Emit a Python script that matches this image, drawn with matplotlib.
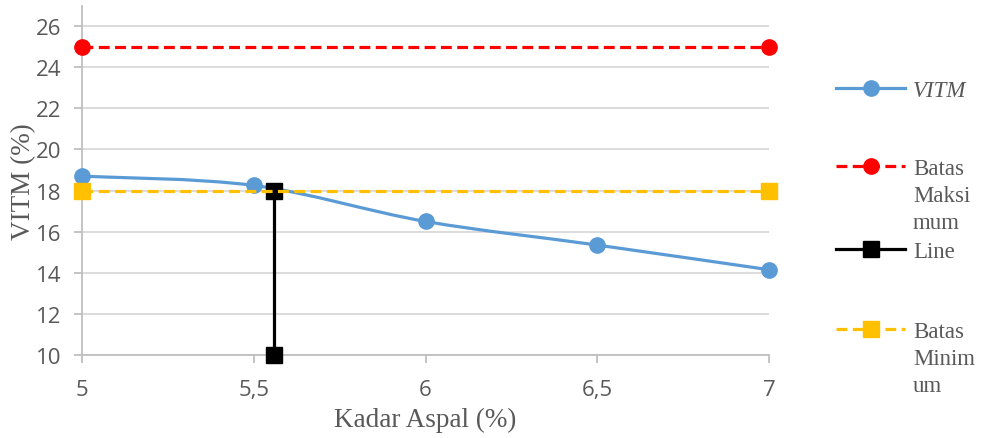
import matplotlib.pyplot as plt
import numpy as np
from matplotlib.path import Path
from matplotlib.patches import PathPatch
from matplotlib.lines import Line2D

# Data VITM terhadap kadar aspal
kadar_aspal = [5, 5.5, 6, 6.5, 7]
vitm = [18.7, 18.25, 16.5, 15.35, 14.15]

batas_maks_x = [5, 7]
batas_maks_y = [25, 25]
batas_min_x = [5, 7]
batas_min_y = [18, 18]
line_x = [5.56, 5.56]
line_y = [18, 10]

x_ticks = [5, 5.5, 6, 6.5, 7]
x_ticklabels = ['5', '5,5', '6', '6,5', '7']
y_ticks = [10, 12, 14, 16, 18, 20, 22, 24, 26]

legend_labels = ['VITM', 'Batas\nMaksi\nmum', 'Line', 'Batas\nMinim\num']

BLUE = '#5b9bd5'
RED = '#ff0000'
YELLOW = '#ffc000'
GRAY_TXT = '#595959'
GRAY_AX = '#bfbfbf'
GRID = '#d9d9d9'


def smooth_path(xs, ys):
    # kurva halus ala Excel (Catmull-Rom -> Bezier kubik)
    p = np.column_stack([xs, ys]).astype(float)
    ext = np.vstack([p[0], p, p[-1]])
    verts = [p[0]]
    codes = [Path.MOVETO]
    for i in range(len(p) - 1):
        p0, p1, p2, p3 = ext[i], ext[i + 1], ext[i + 2], ext[i + 3]
        c1 = p1 + (p2 - p0) / 6
        c2 = p2 - (p3 - p1) / 6
        verts += [c1, c2, p2]
        codes += [Path.CURVE4] * 3
    return Path(verts, codes)


fig = plt.figure(figsize=(9.82, 4.39), dpi=100)
ax = fig.add_axes([0.0835, 0.189, 0.6996, 0.796])

ax.set_xlim(5, 7)
ax.set_ylim(10, 27)

ax.yaxis.grid(True, color=GRID, linewidth=1.3)
ax.set_axisbelow(True)

lw = 2.3
ms = 11
dash = (0, (3.4, 1.7))

# garis VITM (dihaluskan) + penanda
ax.add_patch(PathPatch(smooth_path(kadar_aspal, vitm), facecolor='none',
                       edgecolor=BLUE, linewidth=lw, zorder=3))
ax.plot(kadar_aspal, vitm, linestyle='none', marker='o', markersize=ms,
        color=BLUE, zorder=4, clip_on=False)

ax.plot(batas_maks_x, batas_maks_y, color=RED, linestyle=dash, linewidth=lw,
        marker='o', markersize=ms, zorder=5, clip_on=False)
ax.plot(line_x, line_y, color='black', linewidth=lw, marker='s',
        markersize=ms, zorder=6, clip_on=False)
ax.plot(batas_min_x, batas_min_y, color=YELLOW, linestyle=dash, linewidth=lw,
        marker='s', markersize=ms, zorder=7, clip_on=False)

ax.set_xticks(x_ticks)
ax.set_xticklabels(x_ticklabels)
ax.set_yticks(y_ticks)
for s in ['top', 'right']:
    ax.spines[s].set_visible(False)
for s in ['left', 'bottom']:
    ax.spines[s].set_color(GRAY_AX)
    ax.spines[s].set_linewidth(1.3)
ax.tick_params(axis='both', colors=GRAY_AX, labelcolor=GRAY_TXT,
               length=6, width=1.3, labelsize=16)
ax.tick_params(axis='x', pad=11)
ax.tick_params(axis='y', pad=9)
for t in ax.get_xticklabels() + ax.get_yticklabels():
    t.set_fontfamily('Open Sans')

ax.set_xlabel('Kadar Aspal (%)', fontfamily='Liberation Serif', fontsize=19.5,
              color=GRAY_TXT, labelpad=5)
ax.set_ylabel('VITM (%)', fontfamily='Liberation Serif', fontsize=19.5,
              color=GRAY_TXT, labelpad=0)

# legenda di kanan
W, H = 982, 439
entries = [
    (BLUE, '-', 'o', 89, True),
    (RED, dash, 'o', 167, False),
    ('black', '-', 's', 250, False),
    (YELLOW, dash, 's', 330, False),
]
for (col, ls, mk, ypx, ital), lab in zip(entries, legend_labels):
    yf = 1 - ypx / H
    fig.add_artist(Line2D([836 / W, 905 / W], [yf, yf], color=col,
                          linestyle=ls, linewidth=lw))
    fig.add_artist(Line2D([870.5 / W], [yf], color=col, marker=mk,
                          markersize=ms, linestyle='none'))
    fig.text(913 / W, yf + 8 / H, lab, fontfamily='Liberation Serif',
             fontsize=16.5, color=GRAY_TXT, va='top', ha='left',
             style='italic' if ital else 'normal', linespacing=1.36)

fig.savefig('out.png', dpi=100)
